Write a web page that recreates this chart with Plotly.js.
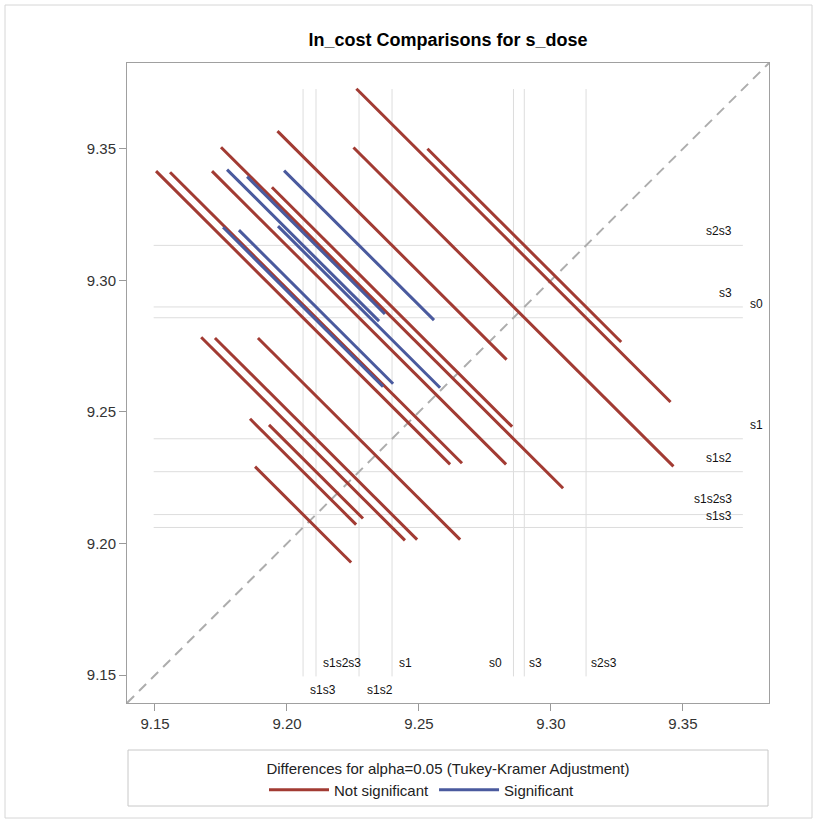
<!DOCTYPE html>
<html>
<head>
<meta charset="utf-8">
<script src="https://cdn.plot.ly/plotly-3.0.1.min.js"></script>
<style>
  html, body { margin: 0; padding: 0; background: #ffffff; }
  #chart { width: 823px; height: 823px; }
</style>
</head>
<body>
<div id="chart"></div>
<script>
// ---- Data ----
const groups = ['s0', 's1', 's1s2', 's1s2s3', 's1s3', 's2s3', 's3'];
const groupMeans = [9.2858, 9.2398, 9.2273, 9.2110, 9.2061, 9.3133, 9.2899];

// Pair comparisons: x-group (lower mean), y-group (higher mean), half span of segment, significance
const pairX = ['s1s3', 's1s2s3', 's1s2', 's1', 's1s3', 's1s2s3', 's1s2', 's1', 's1s3', 's1s2s3', 's1s2', 's1',
               's0', 's3', 's0', 's1s3', 's1s3', 's1s2s3', 's1s3', 's1s2s3', 's1s2'];
const pairY = ['s2s3', 's2s3', 's2s3', 's2s3', 's3', 's3', 's3', 's3', 's0', 's0', 's0', 's0',
               's2s3', 's2s3', 's3', 's1s2s3', 's1s2', 's1s2', 's1', 's1', 's1'];
const halfSpan = [0.0288, 0.0261, 0.0284, 0.0434, 0.0303, 0.0292, 0.0307, 0.0455, 0.0557, 0.0553, 0.0557, 0.0648,
                  0.0595, 0.0367, 0.0606, 0.0182, 0.0201, 0.0178, 0.0386, 0.0383, 0.0383];
const significant = [true, true, true, false, true, true, true, false, false, false, false, false,
                     false, false, false, false, false, false, false, false, false];

const tickVals = [9.15, 9.20, 9.25, 9.30, 9.35];
const tickText = ['9.15', '9.20', '9.25', '9.30', '9.35'];
const refSpan = [9.1495, 9.3727];
const axisRange = [9.1394, 9.3826];

// ---- Build traces ----
const meanOf = g => groupMeans[groups.indexOf(g)];
const RED = '#A23B33';
const BLUE = '#4A5A9E';
const REF = '#DDDDDD';

const traces = [];

// reference lines (vertical at x = mean, horizontal at y = mean)
const rx = [], ry = [];
groups.forEach((g, i) => {
  rx.push(groupMeans[i], groupMeans[i], null);
  ry.push(refSpan[0], refSpan[1], null);
  rx.push(refSpan[0], refSpan[1], null);
  ry.push(groupMeans[i], groupMeans[i], null);
});
traces.push({x: rx, y: ry, mode: 'lines', line: {color: REF, width: 1}, hoverinfo: 'skip', showlegend: false});

// diagonal
traces.push({x: axisRange, y: axisRange, mode: 'lines',
  line: {color: '#ADADAD', width: 2, dash: '10px,7px'}, hoverinfo: 'skip', showlegend: false});

function segs(flag) {
  const xs = [], ys = [];
  pairX.forEach((gx, k) => {
    if (significant[k] !== flag) return;
    const cx = meanOf(gx), cy = meanOf(pairY[k]), h = halfSpan[k];
    xs.push(cx - h, cx + h, null);
    ys.push(cy + h, cy - h, null);
  });
  return {xs, ys};
}
const ns = segs(false), sg = segs(true);
traces.push({x: ns.xs, y: ns.ys, mode: 'lines', name: 'Not significant',
  line: {color: RED, width: 3}, hoverinfo: 'skip'});
traces.push({x: sg.xs, y: sg.ys, mode: 'lines', name: 'Significant',
  line: {color: BLUE, width: 3}, hoverinfo: 'skip'});

// ---- Reference line labels ----
const annotations = [];
const bottomRow = {s1s2s3: 0, s1: 0, s0: 0, s3: 0, s2s3: 0, s1s3: 1, s1s2: 1};
const bottomShift = {s1s2s3: 5, s1: 5, s0: -9, s3: 3, s2s3: 3, s1s3: 5, s1s2: 6};
groups.forEach((g, i) => {
  annotations.push({
    x: groupMeans[i], xref: 'x', y: bottomRow[g] === 0 ? 9.1545 : 9.1443, yref: 'y',
    text: g, showarrow: false, xanchor: g === 's0' ? 'right' : 'left', yanchor: 'middle',
    xshift: bottomShift[g], font: {size: 12, color: '#111111'}
  });
});
const rightCol = {s0: 1, s1: 1};
const rightShift = {s1s2s3: 16, s1s3: 11};
groups.forEach((g, i) => {
  annotations.push({
    x: rightCol[g] ? 9.3811 : 9.3693, xref: 'x', y: groupMeans[i], yref: 'y',
    text: g, showarrow: false, xanchor: 'right', yanchor: 'middle',
    yshift: rightShift[g] !== undefined ? rightShift[g] : 14,
    font: {size: 12, color: '#111111'}
  });
});

// ---- Layout ----
const L = 127, R = 54, T = 63, B = 120, W = 823, H = 823;
const pw = W - L - R, ph = H - T - B;
const px = v => (v - L) / pw;
const py = v => (H - B - v) / ph;

const layout = {
  width: W, height: H,
  margin: {l: L, r: R, t: T, b: B, pad: 0},
  paper_bgcolor: '#ffffff', plot_bgcolor: '#ffffff',
  font: {family: '"Liberation Sans", Arial, sans-serif', color: '#333333'},
  title: {text: '<b>ln_cost Comparisons for s_dose</b>', font: {size: 18, color: '#000000'},
          x: px(448), xref: 'paper', xanchor: 'center', y: 1 - 40 / H, yref: 'container', yanchor: 'middle'},
  xaxis: {range: axisRange, tickvals: tickVals, ticktext: tickText, ticks: 'outside', ticklen: 7,
          tickcolor: '#999999', showgrid: false, zeroline: false, showline: true, linecolor: '#A0A0A0',
          linewidth: 1, mirror: true, tickfont: {size: 15, color: '#333333'}, fixedrange: true},
  yaxis: {range: axisRange, tickvals: tickVals, ticktext: tickText, ticks: 'outside', ticklen: 7,
          tickcolor: '#999999', showgrid: false, zeroline: false, showline: true, linecolor: '#A0A0A0',
          linewidth: 1, mirror: true, tickfont: {size: 15, color: '#333333'}, fixedrange: true},
  showlegend: true,
  legend: {orientation: 'h', x: 0.5, xanchor: 'center', y: py(754), yanchor: 'top',
           bgcolor: 'rgba(0,0,0,0)', borderwidth: 0, font: {size: 15, color: '#222222'},
           title: {text: 'Differences for alpha=0.05 (Tukey-Kramer Adjustment)', side: 'top center',
                   font: {size: 15, color: '#222222'}},
           itemwidth: 60, tracegroupgap: 0},
  annotations: annotations,
  shapes: [
    {type: 'rect', xref: 'paper', yref: 'paper', x0: px(128), x1: px(768), y0: py(806), y1: py(750),
     line: {color: '#C8C8C8', width: 1}, fillcolor: 'rgba(0,0,0,0)'},
    {type: 'rect', xref: 'paper', yref: 'paper', x0: px(5), x1: px(812), y0: py(818), y1: py(5),
     line: {color: '#D6D6D6', width: 1}, fillcolor: 'rgba(0,0,0,0)'}
  ]
};

Plotly.newPlot('chart', traces, layout, {displayModeBar: false, staticPlot: true});
</script>
</body>
</html>
